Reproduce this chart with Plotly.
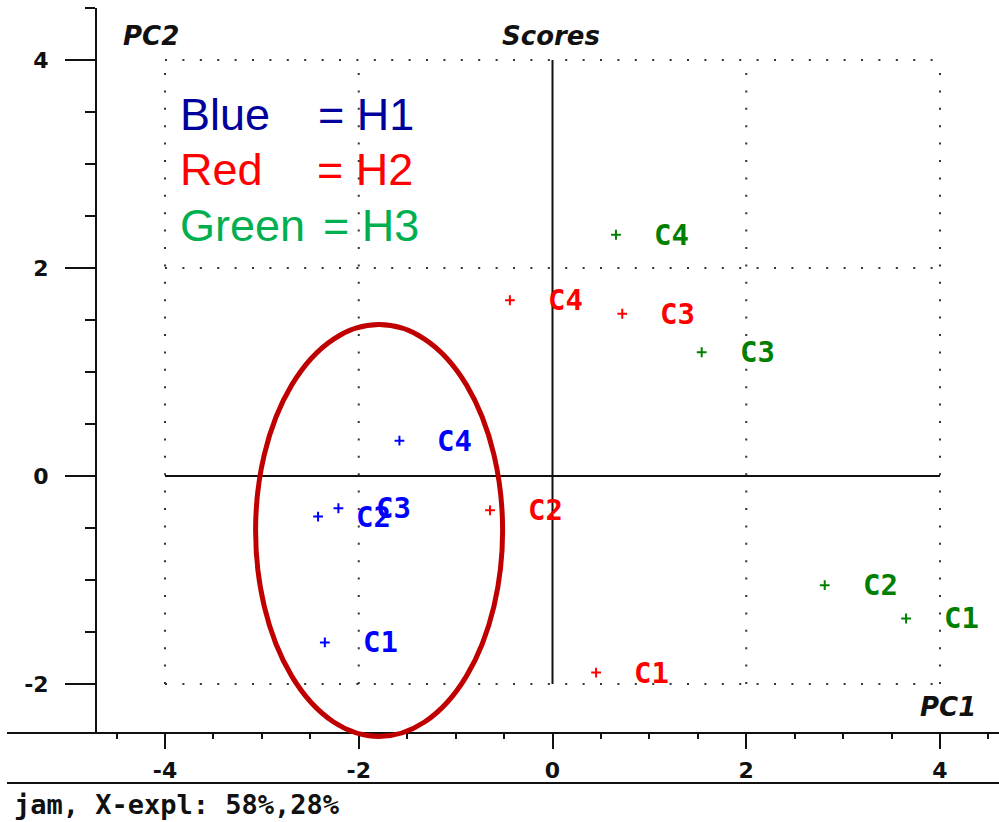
import plotly.graph_objects as go

# PCA scores (PC1, PC2) for three groups, samples C1..C4
samples = ["C1", "C2", "C3", "C4"]
h1_pc1 = [-2.35, -2.42, -2.21, -1.58]
h1_pc2 = [-1.60, -0.39, -0.31, 0.34]
h2_pc1 = [0.45, -0.645, 0.72, -0.44]
h2_pc2 = [-1.89, -0.33, 1.56, 1.69]
h3_pc1 = [3.65, 2.81, 1.54, 0.655]
h3_pc2 = [-1.37, -1.05, 1.19, 2.32]

group_colors = ["#0000FF", "#FF0000", "#008000"]
groups = [(h1_pc1, h1_pc2), (h2_pc1, h2_pc2), (h3_pc1, h3_pc2)]

# legend text
legend_left = ["Blue", "Red", "Green"]
legend_right = ["= H1", "= H2", "= H3"]
legend_colors = ["#00009C", "#FF0000", "#00B050"]

# axis settings
x_range = [-4.702, 4.609]
y_range = [-2.471, 4.5]
x_ticks = [-4, -2, 0, 2, 4]
y_ticks = [-2, 0, 2, 4]
grid_x = [-4, -2, 2, 4]
grid_y = [-2, 2, 4]

# highlighted cluster (ellipse centre and radii in score units)
ell_cx, ell_cy, ell_rx, ell_ry = -1.79, -0.524, 1.275, 1.98

W, H = 999, 822
ML, MR, MT, MB = 97, 0, 8, 89
PW, PH = W - ML - MR, H - MT - MB


def px_x(p):
    return (p - ML) / PW


def px_y(p):
    return (H - MB - p) / PH


def data_to_paper_x(v):
    return (v - x_range[0]) / (x_range[1] - x_range[0])


def data_to_paper_y(v):
    return (v - y_range[0]) / (y_range[1] - y_range[0])


fig = go.Figure()

for (xs, ys), col in zip(groups, group_colors):
    fig.add_trace(go.Scatter(
        x=xs, y=ys, mode="markers",
        marker=dict(symbol="cross-thin", size=7, color=col,
                    line=dict(color=col, width=2)),
        showlegend=False, hoverinfo="skip"))

annotations = []
for (xs, ys), col in zip(groups, group_colors):
    for xv, yv, name in zip(xs, ys, samples):
        annotations.append(dict(
            x=xv, y=yv, xref="x", yref="y", text=name, showarrow=False,
            xanchor="left", yanchor="middle", xshift=36,
            font=dict(family="DejaVu Sans Mono", size=29, color=col,
                      weight="bold")))

shapes = []
# dotted grid
for gx in grid_x:
    shapes.append(dict(type="line", xref="x", yref="y", x0=gx, x1=gx,
                       y0=-2, y1=4, layer="below",
                       line=dict(color="#333333", width=2, dash="2px,15.4px")))
for gy in grid_y:
    shapes.append(dict(type="line", xref="x", yref="y", x0=-4, x1=4,
                       y0=gy, y1=gy, layer="below",
                       line=dict(color="#333333", width=2, dash="2px,15.4px")))
# solid origin lines
shapes.append(dict(type="line", xref="x", yref="y", x0=0, x1=0, y0=-2, y1=4,
                   layer="below", line=dict(color="#111111", width=2)))
shapes.append(dict(type="line", xref="x", yref="y", x0=-4, x1=4, y0=0, y1=0,
                   layer="below", line=dict(color="#111111", width=2)))
# bottom axis line and footer separator
shapes.append(dict(type="line", xref="paper", yref="paper", x0=px_x(7), x1=1,
                   y0=0, y1=0, line=dict(color="#111111", width=2)))
shapes.append(dict(type="line", xref="paper", yref="paper", x0=px_x(7), x1=1,
                   y0=px_y(783), y1=px_y(783),
                   line=dict(color="#111111", width=2)))
# cluster ellipse
shapes.append(dict(type="circle", xref="paper", yref="paper",
                   x0=data_to_paper_x(ell_cx - ell_rx),
                   x1=data_to_paper_x(ell_cx + ell_rx),
                   y0=data_to_paper_y(ell_cy - ell_ry),
                   y1=data_to_paper_y(ell_cy + ell_ry),
                   line=dict(color="#C00000", width=5)))

# legend text block
legend_y = [114, 170, 226]
legend_rx = [316, 315, 321]
for i in range(3):
    annotations.append(dict(
        x=px_x(178), y=px_y(legend_y[i]), xref="paper", yref="paper",
        text=legend_left[i], showarrow=False, xanchor="left", yanchor="middle",
        font=dict(family="Liberation Sans", size=45, color=legend_colors[i])))
    annotations.append(dict(
        x=px_x(legend_rx[i]), y=px_y(legend_y[i]), xref="paper", yref="paper",
        text=legend_right[i], showarrow=False, xanchor="left", yanchor="middle",
        font=dict(family="Liberation Sans", size=45, color=legend_colors[i])))

title_font = dict(family="DejaVu Sans", size=26, color="#111111",
                  weight="bold", style="italic")
annotations += [
    dict(x=px_x(121), y=px_y(36), xref="paper", yref="paper", text="PC2",
         showarrow=False, xanchor="left", yanchor="middle", font=title_font),
    dict(x=px_x(500), y=px_y(36), xref="paper", yref="paper", text="Scores",
         showarrow=False, xanchor="left", yanchor="middle", font=title_font),
    dict(x=px_x(978), y=px_y(707), xref="paper", yref="paper", text="PC1",
         showarrow=False, xanchor="right", yanchor="middle", font=title_font),
    dict(x=px_x(12), y=px_y(804), xref="paper", yref="paper",
         text="jam, X-expl: 58%,28%", showarrow=False, xanchor="left",
         yanchor="middle",
         font=dict(family="DejaVu Sans Mono", size=27, color="#111111",
                   weight="bold")),
]

tick_font = dict(family="DejaVu Sans", size=22, color="#111111", weight="bold")

fig.update_layout(
    width=W, height=H,
    margin=dict(l=ML, r=MR, t=MT, b=MB, pad=0),
    paper_bgcolor="white", plot_bgcolor="white",
    shapes=shapes, annotations=annotations,
    xaxis=dict(range=x_range, showgrid=False, zeroline=False, showline=False,
               tickmode="array", tickvals=x_ticks,
               ticktext=[str(v) for v in x_ticks],
               ticks="outside", ticklen=15, tickwidth=2, tickcolor="#111111",
               minor=dict(ticks="outside", ticklen=5, tickwidth=2,
                          tickcolor="#111111", dtick=0.5, tick0=0,
                          showgrid=False),
               tickfont=tick_font, ticklabelstandoff=3),
    yaxis=dict(range=y_range, showgrid=False, zeroline=False, showline=True,
               linewidth=2, linecolor="#111111",
               tickmode="array", tickvals=y_ticks,
               ticktext=[str(v) for v in y_ticks],
               ticks="outside", ticklen=30, tickwidth=2, tickcolor="#111111",
               minor=dict(ticks="outside", ticklen=10, tickwidth=2,
                          tickcolor="#111111", dtick=0.5, tick0=0,
                          showgrid=False),
               tickfont=tick_font, ticklabelstandoff=12),
)

fig.write_html("out.html")
